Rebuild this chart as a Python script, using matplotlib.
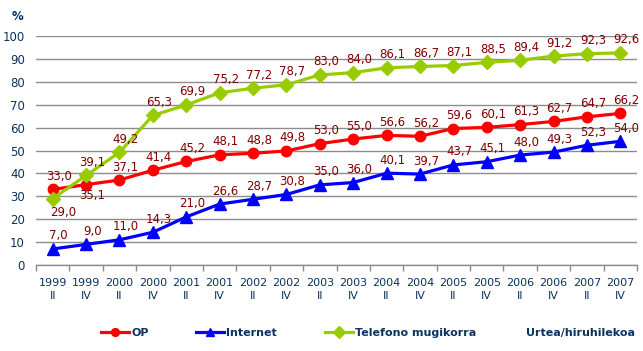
import matplotlib.pyplot as plt
from matplotlib.ticker import MultipleLocator, FixedLocator

years = ['1999', '1999', '2000', '2000', '2001', '2001', '2002', '2002', '2003',
         '2003', '2004', '2004', '2005', '2005', '2006', '2006', '2007', '2007']
quarters = ['II', 'IV'] * 9

op = [33.0, 35.1, 37.1, 41.4, 45.2, 48.1, 48.8, 49.8, 53.0,
      55.0, 56.6, 56.2, 59.6, 60.1, 61.3, 62.7, 64.7, 66.2]
internet = [7.0, 9.0, 11.0, 14.3, 21.0, 26.6, 28.7, 30.8, 35.0,
            36.0, 40.1, 39.7, 43.7, 45.1, 48.0, 49.3, 52.3, 54.0]
telefono = [29.0, 39.1, 49.2, 65.3, 69.9, 75.2, 77.2, 78.7, 83.0,
            84.0, 86.1, 86.7, 87.1, 88.5, 89.4, 91.2, 92.3, 92.6]

navy = '#0B3360'
lblcol = '#800000'
grid = '#8C8C8C'
fs = 8

fig = plt.figure(figsize=(6.43, 3.51), dpi=100)
ax = fig.add_axes([36/643, 1 - 265/351, 601/643, 229/351])

x = list(range(len(op)))
series = [
    (op, 'OP', '#FF0000', 'o', 7.5),
    (internet, 'Internet', '#0000FF', '^', 8),
    (telefono, 'Telefono mugikorra', '#99CC00', 'D', 7.5),
]
handles = []
for vals, name, col, mk, ms in series:
    h, = ax.plot(x, vals, color=col, lw=2.3, marker=mk, ms=ms, label=name,
                 clip_on=False, zorder=3)
    handles.append(h)

# label placement (pixels), a few sit below the point
below = {('OP', 1): (6, -11), ('Telefono mugikorra', 0): (10, -14)}
for vals, name, col, mk, ms in series:
    for i, v in enumerate(vals):
        dx, dy = below.get((name, i), (6, 13))
        ax.annotate(f'{v:.1f}'.replace('.', ','), (i, v), xytext=(dx, dy),
                    textcoords='offset pixels', ha='center', va='center',
                    fontsize=8.5, color=lblcol, zorder=5)

ax.set_xlim(-0.5, 17.5)
ax.set_ylim(0, 100)
ax.yaxis.set_major_locator(MultipleLocator(10))
ax.grid(axis='y', color=grid, lw=1)
ax.set_axisbelow(True)
for s in ['top', 'right', 'left']:
    ax.spines[s].set_visible(False)
ax.spines['bottom'].set_color(grid)
ax.spines['bottom'].set_linewidth(1)

ax.set_xticks(x)
ax.set_xticklabels([f'{y}\n{q}' for y, q in zip(years, quarters)],
                   fontsize=fs, color=navy, linespacing=1.45)
ax.tick_params(axis='x', which='major', length=0, pad=9)
ax.xaxis.set_minor_locator(FixedLocator([i - 0.5 for i in range(19)]))
ax.tick_params(axis='x', which='minor', length=4, color=grid, width=1)
ax.tick_params(axis='y', length=0, pad=8, labelsize=8.5, labelcolor=navy)

fig.text(12/643, 1 - 17/351, '%', fontsize=8.5, fontweight='bold', color=navy,
         ha='left', va='center')

leg = fig.legend(handles=handles, loc='center left',
                 bbox_to_anchor=(91/643, 1 - 333/351), ncol=3, frameon=False,
                 handlelength=2.5, handletextpad=0.2, columnspacing=4.3,
                 markerscale=0.75, prop={'size': fs, 'weight': 'bold'})
for t in leg.get_texts():
    t.set_color(navy)

fig.text(635/643, 1 - 333/351, 'Urtea/hiruhilekoa', fontsize=fs,
         fontweight='bold', color=navy, ha='right', va='center')

fig.savefig('out.png', dpi=100)
